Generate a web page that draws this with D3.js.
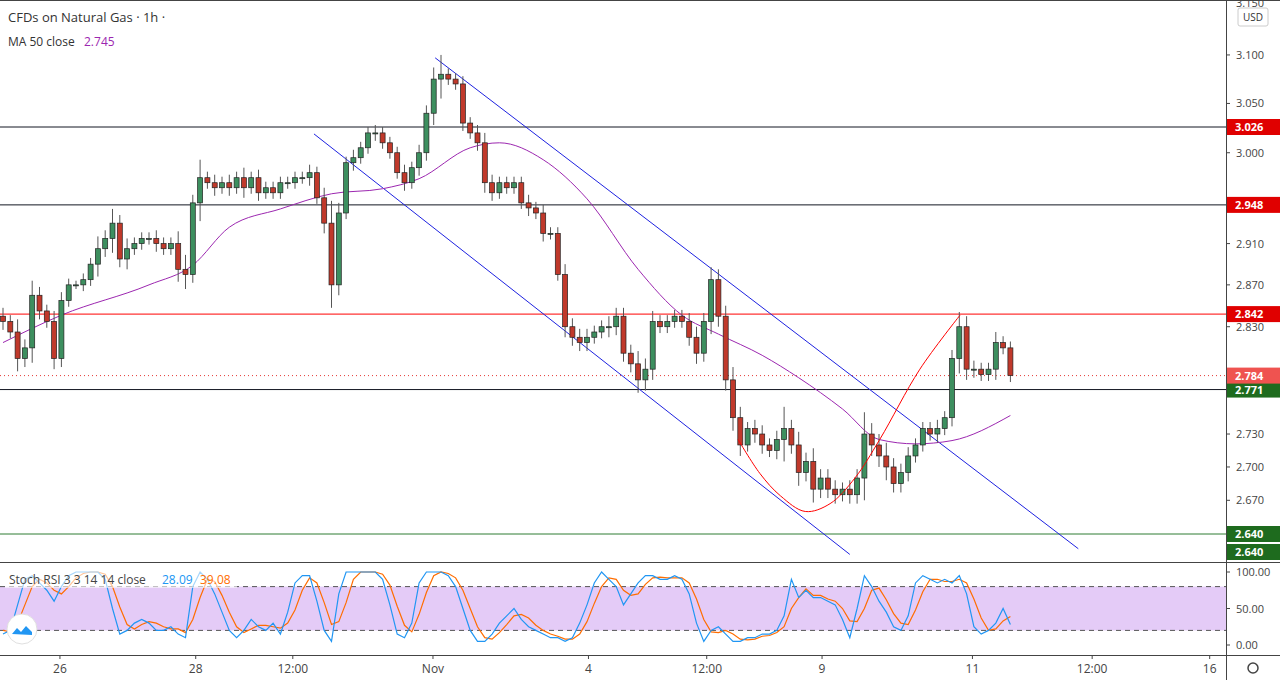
<!DOCTYPE html>
<html><head><meta charset="utf-8">
<script src="https://cdn.jsdelivr.net/npm/d3@7"></script>
<style>
body{margin:0;background:#fff;font-family:"Open Sans",Roboto,sans-serif;}
text{font-family:"Open Sans",Roboto,sans-serif;}
</style></head><body>
<script>
// closes, one per hourly candle (open = previous close)
var closes = [2.835,2.825,2.80,2.81,2.86,2.845,2.835,2.80,2.855,2.87,2.87,2.875,2.89,2.905,2.915,2.93,2.895,2.905,2.91,2.915,
  2.915,2.91,2.905,2.91,2.885,2.88,2.95,2.975,2.97,2.965,2.97,2.965,2.975,2.965,2.975,2.96,2.965,2.96,2.97,2.97,
  2.975,2.975,2.98,2.955,2.93,2.87,2.94,2.99,2.995,3.005,3.02,3.02,3.01,3.0,2.98,2.97,2.985,3.0,3.04,3.075,
  3.08,3.075,3.07,3.03,3.02,3.01,2.97,2.96,2.97,2.965,2.97,2.95,2.945,2.94,2.92,2.92,2.88,2.83,2.82,2.815,
  2.82,2.825,2.83,2.83,2.84,2.805,2.795,2.78,2.79,2.835,2.83,2.835,2.84,2.835,2.82,2.805,2.835,2.875,2.84,2.78,
  2.745,2.72,2.735,2.73,2.72,2.715,2.725,2.735,2.72,2.695,2.705,2.68,2.69,2.68,2.675,2.68,2.675,2.69,2.73,2.72,
  2.71,2.70,2.685,2.695,2.71,2.72,2.735,2.73,2.735,2.745,2.80,2.83,2.79,2.79,2.785,2.79,2.815,2.81,2.784];
// wick length beyond body, in thousandths
var wicks = [8,6,12,8,14,8,6,10,8,6,4,6,6,12,8,14,8,10,6,6,
  6,8,6,6,12,14,8,18,6,8,6,8,6,10,6,8,6,6,6,6,
  6,6,8,6,10,22,10,6,8,6,6,8,6,6,6,8,6,8,8,12,
  20,6,6,8,6,8,10,8,6,6,6,6,8,6,8,6,6,10,8,8,
  8,6,6,10,8,8,8,12,10,10,6,6,6,6,8,10,8,12,10,10,
  12,10,6,8,8,6,8,20,8,12,8,12,8,8,8,6,8,8,20,10,
  10,12,8,8,8,6,6,6,8,6,8,14,10,8,6,6,10,6,6];
var maIdx = [0,8,20,26,31,38,45,52,57,64,68,74,80,87,93,98,104,109,115,120,125,130,138];
var maVal = [2.815,2.841,2.870,2.889,2.926,2.944,2.959,2.964,2.974,3.005,3.010,2.993,2.954,2.885,2.841,2.823,2.803,2.782,2.753,2.725,2.721,2.724,2.747];
var chanUpIdx = [59.2,147.3], chanUpVal = [3.097,2.627];
var chanLoIdx = [42.6,116], chanLoVal = [3.019,2.622];
var arcIdx = [100.7,103.7,106.5,109.9,113.3,116.7,120.1,125.6,131.1];
var arcVal = [2.725,2.694,2.674,2.660,2.667,2.690,2.725,2.790,2.841];
var stochK = [15,20,55,90,95,85,75,60,80,95,100,100,100,100,90,50,15,20,30,35,
  30,20,20,25,15,10,80,100,90,70,45,20,10,20,35,25,20,30,15,45,
  85,95,95,60,20,5,70,100,100,100,100,100,90,55,15,10,30,85,100,100,
  100,95,80,50,20,5,5,15,30,40,50,35,25,20,15,10,10,5,10,30,
  55,85,100,90,80,55,70,85,95,95,90,90,95,90,70,30,5,20,25,15,
  5,5,10,10,15,15,20,40,90,65,75,65,65,60,55,35,10,50,95,80,
  60,45,25,20,40,85,95,90,85,90,85,95,70,25,15,20,30,50,28.09];
var stochD = [20,18,30,55,80,90,85,75,70,80,92,98,100,100,97,80,52,28,22,28,
  32,30,25,22,22,17,35,65,90,87,68,45,25,17,22,27,27,25,23,30,
  48,75,92,85,58,28,32,58,90,100,100,100,97,82,53,27,18,42,72,95,
  100,98,92,75,50,25,10,8,17,28,40,42,37,27,20,15,12,8,8,15,
  32,57,80,92,90,75,68,70,83,92,93,92,92,92,85,63,35,18,17,20,
  15,8,7,8,12,13,17,25,50,65,77,68,68,63,60,50,33,32,50,75,
  78,62,43,30,28,48,73,90,90,87,87,90,85,63,37,20,22,33,39.08];
var priceTicks = [3.100,3.050,3.000,2.910,2.870,2.830,2.730,2.700,2.670];
var levels = [
  {v:3.026, line:"#131722", bg:"#e00000"},
  {v:2.948, line:"#131722", bg:"#e00000"},
  {v:2.842, line:"#ff0000", bg:"#e00000"},
  {v:2.771, line:"#131722", bg:"#1e6b1e"},
  {v:2.640, line:"#2e7d32", bg:"#1e6b1e"}
];
var lastPrice = 2.784;
var dateIdx = [7.8,26.4,39.7,58.9,80.2,96.4,112.2,132.8,149.2,165.3];
var dateLab = ["26","28","12:00","Nov","4","12:00","9","11","12:00","16"];

var W = 1280, H = 680, paneR = 1226, mainB = 562, stTop = 563, stB = 655;
var svg = d3.select("body").append("svg").attr("width", W).attr("height", H);

var x = d3.scaleLinear().domain([0, 1]).range([3, 10.3]);
var y = d3.scaleLog().domain([2.640, 3.026]).range([534, 127]);
var ys = d3.scaleLinear().domain([0, 100]).range([645, 572]);

svg.append("clipPath").attr("id", "cm").append("rect").attr("width", paneR).attr("height", mainB);
var main = svg.append("g").attr("clip-path", "url(#cm)");

levels.forEach(function(l) {
  main.append("line").attr("x1", 0).attr("x2", paneR).attr("y1", y(l.v)).attr("y2", y(l.v))
    .attr("stroke", l.line).attr("stroke-width", 1);
});
main.append("line").attr("x1", 0).attr("x2", paneR).attr("y1", y(lastPrice)).attr("y2", y(lastPrice))
  .attr("stroke", "#e53935").attr("stroke-dasharray", "1,3");

// channel
[[chanUpIdx, chanUpVal], [chanLoIdx, chanLoVal]].forEach(function(c) {
  main.append("line").attr("x1", x(c[0][0])).attr("y1", y(c[1][0]))
    .attr("x2", x(c[0][1])).attr("y2", y(c[1][1])).attr("stroke", "#1e22e0").attr("stroke-width", 1);
});

// MA 50
var ma = maIdx.map(function(d, i) { return [d, maVal[i]]; });
main.append("path").datum(ma).attr("fill", "none").attr("stroke", "#9c27b0").attr("stroke-width", 1)
  .attr("d", d3.line().curve(d3.curveMonotoneX).x(function(d){ return x(d[0]); }).y(function(d){ return y(d[1]); }));

// candles
var candles = closes.map(function(c, i) {
  var o = i ? closes[i-1] : 2.84, w = wicks[i] / 1000;
  return {i: i, o: o, c: c, h: Math.max(o, c) + w, l: Math.min(o, c) - w};
});
var cg = main.selectAll(".c").data(candles).enter().append("g");
cg.append("line").attr("x1", function(d){ return x(d.i); }).attr("x2", function(d){ return x(d.i); })
  .attr("y1", function(d){ return y(d.h); }).attr("y2", function(d){ return y(d.l); })
  .attr("stroke", "#555").attr("stroke-width", 1);
cg.append("rect").attr("x", function(d){ return x(d.i) - 2.5; }).attr("width", 5)
  .attr("y", function(d){ return y(Math.max(d.o, d.c)); })
  .attr("height", function(d){ return Math.max(1, Math.abs(y(d.o) - y(d.c))); })
  .attr("fill", function(d){ return d.c >= d.o ? "#3d8f5f" : "#c0392b"; })
  .attr("stroke", "#222").attr("stroke-width", 0.7);

// red arc
var arc = arcIdx.map(function(d, i) { return [d, arcVal[i]]; });
main.append("path").datum(arc).attr("fill", "none").attr("stroke", "#ff0000").attr("stroke-width", 1)
  .attr("d", d3.line().curve(d3.curveCatmullRom).x(function(d){ return x(d[0]); }).y(function(d){ return y(d[1]); }));

// pane frames
svg.append("line").attr("x1", 0).attr("x2", W).attr("y1", 0.5).attr("y2", 0.5).attr("stroke", "#444");
svg.append("line").attr("x1", 0).attr("x2", W).attr("y1", mainB + 0.5).attr("y2", mainB + 0.5).attr("stroke", "#444");
svg.append("line").attr("x1", 0).attr("x2", W).attr("y1", stB + 0.5).attr("y2", stB + 0.5).attr("stroke", "#444");
svg.append("line").attr("x1", paneR + 0.5).attr("x2", paneR + 0.5).attr("y1", 0).attr("y2", H).attr("stroke", "#444");

// price axis
var pa = svg.append("g").attr("transform", "translate(" + paneR + ",0)");
pa.append("text").attr("x", 10).attr("y", 7).attr("font-size", 11).attr("fill", "#444").text("3.150");
pa.append("rect").attr("x", 12).attr("y", 8).attr("width", 30).attr("height", 18).attr("rx", 2)
  .attr("fill", "#fff").attr("stroke", "#ccc");
pa.append("text").attr("x", 17).attr("y", 21).attr("font-size", 10).attr("fill", "#333").text("USD");
priceTicks.forEach(function(t) {
  pa.append("line").attr("x1", 0).attr("x2", 4).attr("y1", y(t)).attr("y2", y(t)).attr("stroke", "#444");
  pa.append("text").attr("x", 10).attr("y", y(t) + 4).attr("font-size", 11).attr("fill", "#444").text(t.toFixed(3));
});
levels.concat([{v:2.640, bg:"#1e6b1e", off:18}]).forEach(function(l) {
  var yy = y(l.v) + (l.off || 0);
  pa.append("rect").attr("x", 1).attr("y", yy - 8).attr("width", 53).attr("height", 16).attr("fill", l.bg);
  pa.append("text").attr("x", 9).attr("y", yy + 4).attr("font-size", 11).attr("font-weight", "bold")
    .attr("fill", "#fff").text(l.v.toFixed(3));
});
pa.append("rect").attr("x", 1).attr("y", y(lastPrice) - 8).attr("width", 53).attr("height", 16).attr("fill", "#ef5350");
pa.append("text").attr("x", 9).attr("y", y(lastPrice) + 4).attr("font-size", 11).attr("font-weight", "bold")
  .attr("fill", "#fff").text(lastPrice.toFixed(3));

// titles
svg.append("text").attr("x", 8).attr("y", 22).attr("font-size", 13).attr("fill", "#333").text("CFDs on Natural Gas · 1h ·");
svg.append("text").attr("x", 8).attr("y", 46).attr("font-size", 12).attr("fill", "#333").text("MA 50 close");
svg.append("text").attr("x", 84).attr("y", 46).attr("font-size", 12).attr("fill", "#9c27b0").text("2.745");

// stoch pane
svg.append("clipPath").attr("id", "cs").append("rect").attr("y", stTop).attr("width", paneR).attr("height", stB - stTop);
var st = svg.append("g").attr("clip-path", "url(#cs)");
st.append("rect").attr("x", 0).attr("width", paneR).attr("y", ys(80)).attr("height", ys(20) - ys(80)).attr("fill", "#e4cbf7");
[80, 20].forEach(function(v) {
  st.append("line").attr("x1", 0).attr("x2", paneR).attr("y1", ys(v)).attr("y2", ys(v))
    .attr("stroke", "#555").attr("stroke-dasharray", "5,4");
});
var sline = d3.line().x(function(d, i){ return x(i); }).y(function(d){ return ys(d); });
st.append("path").datum(stochD).attr("fill", "none").attr("stroke", "#ff6d00").attr("stroke-width", 1.2).attr("d", sline);
st.append("path").datum(stochK).attr("fill", "none").attr("stroke", "#2196f3").attr("stroke-width", 1.2).attr("d", sline);
svg.append("rect").attr("x", 5).attr("y", 571).attr("width", 232).attr("height", 17).attr("fill", "#fff").attr("opacity", 0.6);
svg.append("text").attr("x", 9).attr("y", 584).attr("font-size", 12).attr("fill", "#444").text("Stoch RSI 3 3 14 14 close");
svg.append("text").attr("x", 162).attr("y", 584).attr("font-size", 12).attr("fill", "#2196f3").text("28.09");
svg.append("text").attr("x", 200).attr("y", 584).attr("font-size", 12).attr("fill", "#ff6d00").text("39.08");
[100, 50, 0].forEach(function(v) {
  pa.append("line").attr("x1", 0).attr("x2", 4).attr("y1", ys(v)).attr("y2", ys(v)).attr("stroke", "#444");
  pa.append("text").attr("x", 10).attr("y", ys(v) + 4).attr("font-size", 11).attr("fill", "#444").text(v.toFixed(2));
});
// logo
svg.append("circle").attr("cx", 22).attr("cy", 629).attr("r", 15).attr("fill", "#fff").attr("stroke", "#e0e0e0");
svg.append("path").attr("d", "M12,634 l5,-6 l4,4 l5,-6 l6,6 l0,3 z").attr("fill", "#2196f3");

// time axis
dateIdx.forEach(function(d, i) {
  svg.append("line").attr("x1", x(d)).attr("x2", x(d)).attr("y1", stB).attr("y2", stB + 4).attr("stroke", "#444");
  svg.append("text").attr("x", x(d)).attr("y", 673).attr("text-anchor", "middle").attr("font-size", 12)
    .attr("fill", "#444").text(dateLab[i]);
});
svg.append("circle").attr("cx", 1253).attr("cy", 668).attr("r", 5).attr("fill", "none").attr("stroke", "#444").attr("stroke-width", 1.5);
</script>
</body></html>
